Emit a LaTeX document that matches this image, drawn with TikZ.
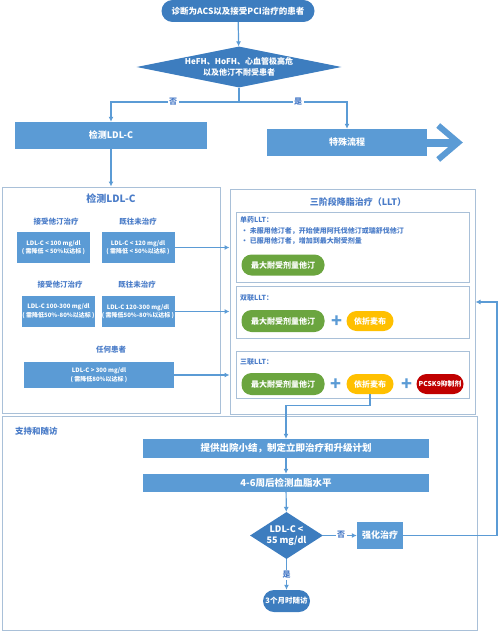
\documentclass[tikz,border=0pt]{standalone}
\usepackage{fontspec}
\setmainfont{Noto Sans CJK SC}
\usetikzlibrary{arrows.meta,positioning}
\usetikzlibrary{shapes.geometric}

\definecolor{darkblue}{HTML}{3D7DBF}
\definecolor{boxblue}{HTML}{5B9BD5}
\definecolor{framegray}{HTML}{A9C0D8}
\definecolor{labelblue}{HTML}{4A7CC8}
\definecolor{llgreen}{HTML}{6BA53F}
\definecolor{llyellow}{HTML}{FFC000}
\definecolor{llred}{HTML}{C00000}

\newcommand{\fsz}[2]{\fontsize{#1}{#2}\selectfont}

\tikzset{
    conn/.style = {draw=boxblue, line width=1.2pt},
    arr/.style = {conn, -{Latex[length=5pt,width=5pt]}},
    bigblock/.style = {fill=boxblue, text=white, font=\fsz{9}{11}\bfseries, inner sep=0pt},
    ldlbox/.style = {fill=boxblue, text=white, font=\fsz{6}{8.5}\bfseries, align=center, inner sep=0pt, minimum width=73pt, minimum height=31pt},
    pill/.style = {fill=darkblue, text=white, font=\fsz{8.5}{10}\bfseries, rounded corners=11pt, inner sep=0pt},
    decshape/.style = {diamond, fill=darkblue, inner sep=0pt},
    frame/.style = {draw=framegray, line width=1pt, inner sep=0pt},
    title/.style = {text=labelblue, font=\fsz{10}{12}\bfseries},
    tag/.style = {text=labelblue, font=\fsz{7.5}{9}\bfseries},
    yesno/.style = {fill=white, text=labelblue, font=\fsz{8}{9}\bfseries, inner sep=1.5pt},
    drug/.style = {text=white, font=\fsz{8}{9}\bfseries, rounded corners=10pt, inner sep=0pt, minimum height=20pt},
    plussign/.style = {text=boxblue, font=\fsz{18}{18}\bfseries, inner sep=0pt}
}

\begin{document}
\begin{tikzpicture}[x=1pt,y=-1pt]
    \useasboundingbox (0,0) rectangle (500,634);

    % Top of the chart
    \node[pill, minimum width=153pt, minimum height=22pt] (start) at (238,11) {诊断为ACS以及接受PCI治疗的患者};
    \node[decshape, minimum width=205pt, minimum height=41pt] (dec1) at (239,67) {};
    \node[text=white, font=\fsz{8}{10.5}\bfseries, align=center] (dec1txt) at (dec1) {HeFH、HoFH、心血管极高危\\以及他汀不耐受患者};
    \coordinate (split) at (239,102);
    \node[bigblock, minimum width=192pt, minimum height=27pt] (jiance) at (111,135.5) {检测LDL-C};
    \node[bigblock, minimum width=160pt, minimum height=27pt] (teshu) at (347,142.5) {特殊流程};

    \draw[arr] (start) -- (dec1);
    \draw[conn] (dec1.south) -- (split);
    \draw[arr] (split) -| (jiance.north);
    \draw[arr] (split) -| (teshu.north);
    \node[yesno] (no1) at (173,102) {否};
    \node[yesno] (yes1) at (298,102) {是};

    % Big arrow after teshu
    \draw[boxblue, line width=8pt] (teshu.east) -- ++(27,0);
    \draw[boxblue, line width=6pt, miter limit=10] ([xshift=11pt,yshift=17pt]teshu.east) -- ++(20,17) -- ++(-20,17);

    % Left frame: LDL-C levels
    \node[frame, minimum width=218pt, minimum height=226pt] (lframe) at (111,300) {};
    \draw[arr] (jiance.south) -- (lframe.north);
    \node[title] (ltitle) at (111,199) {检测LDL-C};
    \node[tag] (l1) at (56,222) {接受他汀治疗};
    \node[tag] (l2) at (138,222) {既往未治疗};
    \node[ldlbox] (b1) at (53.5,247.5) {LDL-C < 100 mg/dl\\( 需降低 < 50\%以达标 )};
    \node[ldlbox] (b2) at (138,247.5) {LDL-C < 120 mg/dl\\( 需降低 < 50\%以达标 )};
    \node[tag] (l3) at (60,285) {接受他汀治疗};
    \node[tag] (l4) at (137,285) {既往未治疗};
    \node[ldlbox] (b3) at (58.5,311) {LDL-C 100-300 mg/dl\\( 需降低50\%-80\%以达标 )};
    \node[ldlbox] (b4) at (138,311.5) {LDL-C 120-300 mg/dl\\( 需降低50\%-80\%以达标 )};
    \node[tag] (l5) at (111,350) {任何患者};
    \node[ldlbox, minimum width=150pt, minimum height=26pt] (b5) at (99,375) {LDL-C > 300 mg/dl\\( 需降低80\%以达标 )};

    % Right frame: three-step LLT
    \node[frame, minimum width=245pt, minimum height=225pt] (rframe) at (352.5,301.5) {};
    \node[title, font=\fsz{9}{11}\bfseries] (rtitle) at (358,202) {三阶段降脂治疗（LLT）};
    \node[frame, minimum width=233pt, minimum height=70pt] (s1) at (352.5,247) {};
    \node[frame, minimum width=233pt, minimum height=52pt] (s2) at (352.5,312) {};
    \node[frame, minimum width=233pt, minimum height=47pt] (s3) at (352.5,374.5) {};

    \node[tag, font=\fsz{7}{8}\bfseries, anchor=west, inner sep=0pt] (s1h) at (240,220) {单药LLT：};
    \node[tag, font=\fsz{7}{8}\bfseries, anchor=west, inner sep=0pt] (s1a) at (241,231) {• 未服用他汀者，开始使用阿托伐他汀或瑞舒伐他汀};
    \node[tag, font=\fsz{7}{8}\bfseries, anchor=west, inner sep=0pt] (s1b) at (241,241) {• 已服用他汀者，增加到最大耐受剂量};
    \node[drug, fill=llgreen, minimum width=83pt, minimum height=21pt] (g1) at (283,265) {最大耐受剂量他汀};

    \node[tag, font=\fsz{7}{8}\bfseries, anchor=west, inner sep=0pt] (s2h) at (240,298) {双联LLT：};
    \node[drug, fill=llgreen, minimum width=83pt, minimum height=22pt] (g2) at (283,321) {最大耐受剂量他汀};
    \node[plussign] (p2) at (337,322) {+};
    \node[drug, fill=llyellow, minimum width=47pt] (y2) at (370,321) {依折麦布};

    \node[tag, font=\fsz{7}{8}\bfseries, anchor=west, inner sep=0pt] (s3h) at (240,362) {三联LLT：};
    \node[drug, fill=llgreen, minimum width=83pt, minimum height=22pt] (g3) at (283,384) {最大耐受剂量他汀};
    \node[plussign] (p3a) at (336,385) {+};
    \node[drug, fill=llyellow, minimum width=47pt] (y3) at (370,384) {依折麦布};
    \node[plussign] (p3b) at (407,385) {+};
    \node[drug, fill=llred, minimum width=47pt, font=\fsz{6.8}{8}\bfseries] (r3) at (440,384) {PCSK9抑制剂};

    \draw[arr] (b2.east) -- (b2.east -| rframe.west);
    \draw[arr] (b4.east) -- (b4.east -| rframe.west);
    \draw[arr] (b5.east) -- (b5.east -| rframe.west);

    % Bottom frame: support and follow-up
    \node[frame, minimum width=475pt, minimum height=214pt] (bframe) at (239.5,523) {};
    \node[title, font=\fsz{8.5}{10}\bfseries, anchor=west, inner sep=0pt] (btitle) at (15,431) {支持和随访};
    \node[bigblock, font=\fsz{9.5}{11}\bfseries, minimum width=286pt, minimum height=19pt] (tigong) at (286,448.5) {提供出院小结，制定立即治疗和升级计划};
    \node[bigblock, font=\fsz{9.5}{11}\bfseries, minimum width=286pt, minimum height=18pt] (jc46) at (286,483) {4-6周后检测血脂水平};
    \node[decshape, minimum width=73pt, minimum height=47pt] (dec2) at (286.5,535.5) {};
    \node[text=white, font=\fsz{9}{11.5}\bfseries, align=center] (dec2txt) at (dec2) {LDL-C <\\55 mg/dl};
    \node[bigblock, minimum width=46pt, minimum height=27pt] (qh) at (380,535.5) {强化治疗};
    \node[pill, font=\fsz{7.5}{9}\bfseries, minimum width=47pt, minimum height=22pt] (follow) at (286.5,601) {3个月时随访};
    \coordinate (back) at (497,302);

    \draw[arr] (y3.south) -- ++(0,11) -| (tigong.north);
    \draw[arr] (tigong) -- (jc46);
    \draw[arr] (jc46) -- (dec2);
    \draw[arr] (dec2.east) -- (qh.west);
    \draw[arr] (dec2.south) -- (follow.north);
    \draw[arr] (qh.east) -| (back) -- (back -| rframe.east);
    \node[yesno] (no2) at (341,535) {否};
    \node[yesno] (yes2) at (286.5,575) {是};
\end{tikzpicture}
\end{document}
